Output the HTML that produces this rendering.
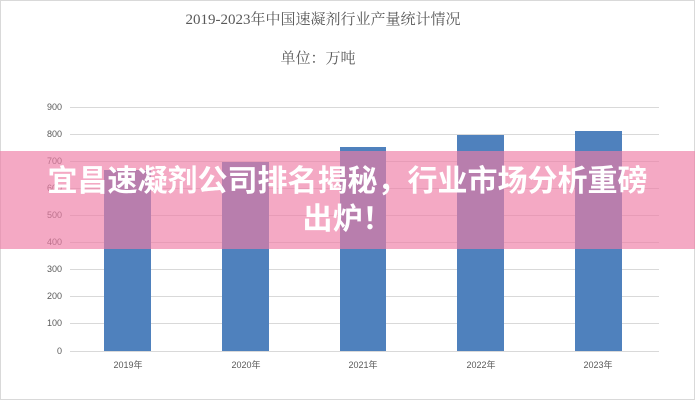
<!DOCTYPE html>
<html><head><meta charset="utf-8"><style>
html,body{margin:0;padding:0;background:#fff}
#w{position:relative;width:695px;height:400px;overflow:hidden;background:#fff;font-family:"Liberation Sans","Noto Sans CJK SC",sans-serif}
.ban{position:absolute;left:0;top:151px;width:695px;height:98px;background:rgba(238,125,165,0.66)}
.bt{position:absolute;left:0;width:695px;text-align:center;color:#fff;font-weight:bold;font-size:30px;line-height:36px;font-family:"Liberation Sans","Noto Sans CJK SC",sans-serif}
</style></head><body><div id="w">
<svg width="695" height="400" style="position:absolute;left:0;top:0">
<rect x="0.5" y="0.5" width="694" height="399" fill="none" stroke="#d9d9d9"/>
<text x="323" y="24" text-anchor="middle" font-family="Liberation Serif,Noto Serif CJK SC,serif" font-size="15" fill="#595959">2019-2023年中国速凝剂行业产量统计情况</text>
<text x="318" y="63" text-anchor="middle" font-family="Liberation Serif,Noto Serif CJK SC,serif" font-size="15" fill="#595959">单位：万吨</text>
<g stroke="#d9d9d9" stroke-width="1">
<line x1="70" x2="659" y1="107.5" y2="107.5"/><line x1="70" x2="659" y1="134.5" y2="134.5"/>
<line x1="70" x2="659" y1="161.5" y2="161.5"/><line x1="70" x2="659" y1="188.5" y2="188.5"/>
<line x1="70" x2="659" y1="215.5" y2="215.5"/><line x1="70" x2="659" y1="242.5" y2="242.5"/>
<line x1="70" x2="659" y1="269.5" y2="269.5"/><line x1="70" x2="659" y1="296.5" y2="296.5"/>
<line x1="70" x2="659" y1="323.5" y2="323.5"/><line x1="70" x2="659" y1="351.5" y2="351.5"/>
</g>
<g font-size="9" fill="#595959" text-anchor="end" font-family="Liberation Sans,sans-serif">
<text x="62" y="110">900</text><text x="62" y="137">800</text><text x="62" y="164">700</text><text x="62" y="191">600</text><text x="62" y="218">500</text><text x="62" y="245">400</text><text x="62" y="272">300</text><text x="62" y="299">200</text><text x="62" y="326">100</text><text x="62" y="354">0</text>
</g>
<g fill="#4f81bd">
<rect x="104" y="170" width="47" height="181"/>
<rect x="222" y="162" width="47" height="189"/>
<rect x="340" y="147" width="46" height="204"/>
<rect x="457" y="135" width="47" height="216"/>
<rect x="575" y="131" width="47" height="220"/>
</g>
<g font-size="9" fill="#595959" text-anchor="middle" font-family="Liberation Sans,Noto Sans CJK SC,sans-serif">
<text x="128" y="368">2019年</text><text x="246" y="368">2020年</text><text x="363" y="368">2021年</text><text x="481" y="368">2022年</text><text x="598" y="368">2023年</text>
</g>
</svg>
<div class="ban"></div>
<div class="bt" style="top:164px">宜昌速凝剂公司排名揭秘，行业市场分析重磅</div>
<div class="bt" style="top:202px">出炉！</div>
</div></body></html>
